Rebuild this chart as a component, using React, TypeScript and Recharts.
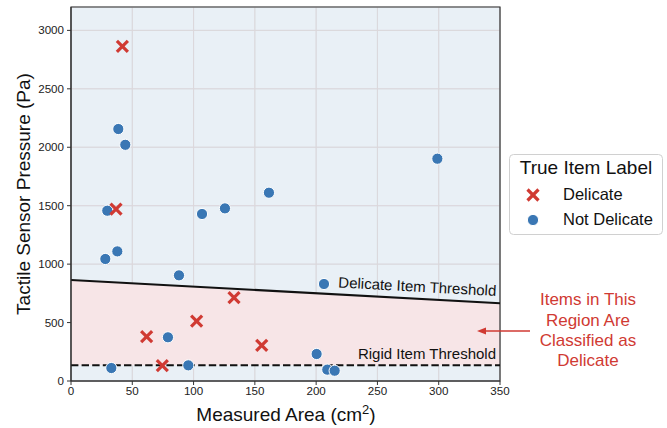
import React from 'react';
import {
  ComposedChart, XAxis, YAxis, CartesianGrid, Scatter, Line, Area, ReferenceArea,
} from 'recharts';

// ---- data ----
const delicateArea = [41.9, 36.7, 61.7, 102.5, 133.0, 74.5, 155.6];
const delicatePressure = [2863, 1471, 379, 513, 713, 131, 305];

const notDelicateArea = [38.6, 44.3, 29.6, 106.9, 125.6, 161.5, 298.9, 28.0, 37.8, 88.1, 79.1, 95.7, 32.9, 206.4, 200.4, 209.1, 215.1];
const notDelicatePressure = [2156, 2021, 1457, 1429, 1477, 1611, 1902, 1044, 1109, 904, 374, 134, 111, 830, 231, 97, 88];

const thresholdArea = [0, 350];
const delicateThreshold = [865, 665];
const rigidThreshold = [135, 135];

const xTicks = [0, 50, 100, 150, 200, 250, 300, 350];
const yTicks = [0, 500, 1000, 1500, 2000, 2500, 3000];

const delicatePts = delicateArea.map((x, i) => ({ x, y: delicatePressure[i] }));
const notDelicatePts = notDelicateArea.map((x, i) => ({ x, y: notDelicatePressure[i] }));
const thresholdData = thresholdArea.map((x, i) => ({
  x, delicate: delicateThreshold[i], rigid: rigidThreshold[i],
}));

const RED = '#d03a33';
const BLUE = '#3a77b4';
const FONT = '"Liberation Sans", Arial, Helvetica, sans-serif';

const CrossShape = (props: any) => {
  const { cx, cy } = props;
  const s = 5.5;
  return (
    <g>
      <line x1={cx - s} y1={cy - s} x2={cx + s} y2={cy + s} stroke={RED} strokeWidth={3.2} />
      <line x1={cx - s} y1={cy + s} x2={cx + s} y2={cy - s} stroke={RED} strokeWidth={3.2} />
    </g>
  );
};

const DotShape = (props: any) => {
  const { cx, cy } = props;
  return <circle cx={cx} cy={cy} r={5.6} fill={BLUE} stroke="#ffffff" strokeWidth={1} />;
};

const Overlay = () => (
  <svg
    width={667}
    height={428}
    style={{ position: 'absolute', left: 0, top: 0, pointerEvents: 'none', fontFamily: FONT }}
  >
    {/* axis titles */}
    <text x={30} y={194} transform="rotate(-90 30 194)" textAnchor="middle" fontSize={19} fill="#111">
      Tactile Sensor Pressure (Pa)
    </text>
    <text x={286} y={421} textAnchor="middle" fontSize={19} fill="#111">
      Measured Area (cm<tspan dy={-7} fontSize={13}>2</tspan><tspan dy={7}>)</tspan>
    </text>
    {/* threshold labels */}
    <text x={496} y={296} transform="rotate(3.1 496 296)" textAnchor="end" fontSize={15} fill="#111">
      Delicate Item Threshold
    </text>
    <text x={496} y={359} textAnchor="end" fontSize={15} fill="#111">
      Rigid Item Threshold
    </text>
    {/* annotation */}
    <g fill={RED} fontSize={17} textAnchor="middle">
      <text x={588} y={305}>Items in This</text>
      <text x={588} y={325.5}>Region Are</text>
      <text x={588} y={346}>Classified as</text>
      <text x={588} y={366}>Delicate</text>
    </g>
    <line x1={530} y1={331} x2={484} y2={331} stroke={RED} strokeWidth={1.5} />
    <polygon points="477,331 486,327.5 486,334.5" fill={RED} />
    {/* legend */}
    <rect x={509.5} y={154.5} width={153} height={80} rx={4} fill="#ffffff" fillOpacity={0.85} stroke="#d0d0d0" />
    <text x={586} y={174} textAnchor="middle" fontSize={19} fill="#111">True Item Label</text>
    <line x1={527.5} y1={189.5} x2={538.5} y2={200.5} stroke={RED} strokeWidth={3.2} />
    <line x1={527.5} y1={200.5} x2={538.5} y2={189.5} stroke={RED} strokeWidth={3.2} />
    <text x={563} y={200} fontSize={16.5} fill="#111">Delicate</text>
    <circle cx={533} cy={220} r={5.6} fill={BLUE} stroke="#fff" strokeWidth={1} />
    <text x={563} y={225} fontSize={16.5} fill="#111">Not Delicate</text>
  </svg>
);

export default function App() {
  return (
    <div style={{ position: 'absolute', left: 0, top: 0, width: 667, height: 428, background: '#fff', fontFamily: FONT }}>
      <ComposedChart
        width={667}
        height={428}
        data={thresholdData}
        margin={{ top: 7, right: 167, bottom: 0, left: 0 }}
        style={{ fontFamily: FONT }}
      >
        <CartesianGrid fill="#e9f0f6" stroke="#d9dee3" strokeWidth={1} />
        <XAxis
          type="number"
          dataKey="x"
          domain={[0, 350]}
          ticks={xTicks}
          allowDataOverflow
          height={47}
          tickSize={4}
          tickMargin={2}
          stroke="#333"
          tick={{ fontSize: 11.6, fill: '#222' }}
        />
        <YAxis
          type="number"
          domain={[0, 3200]}
          ticks={yTicks}
          allowDataOverflow
          width={71}
          tickSize={4}
          tickMargin={3}
          stroke="#333"
          tick={{ fontSize: 11.6, fill: '#222' }}
        />
        <Area
          type="linear"
          dataKey={(d: any) => [d.rigid, d.delicate]}
          fill="#f7e5e7"
          fillOpacity={1}
          stroke="none"
          isAnimationActive={false}
          activeDot={false}
        />
        <CartesianGrid stroke="#dcd6da" strokeOpacity={0.8} strokeWidth={1} />
        <Line type="linear" dataKey="delicate" stroke="#111" strokeWidth={2} dot={false} activeDot={false} isAnimationActive={false} />
        <Line type="linear" dataKey="rigid" stroke="#111" strokeWidth={2} strokeDasharray="7.4 3.2" dot={false} activeDot={false} isAnimationActive={false} />
        <Scatter name="Not Delicate" data={notDelicatePts} dataKey="y" shape={DotShape} isAnimationActive={false} />
        <Scatter name="Delicate" data={delicatePts} dataKey="y" shape={CrossShape} isAnimationActive={false} />
        <ReferenceArea x1={0} x2={350} y1={0} y2={3200} fill="none" stroke="#333" strokeWidth={1.2} ifOverflow="extendDomain" />
      </ComposedChart>
      <Overlay />
    </div>
  );
}
